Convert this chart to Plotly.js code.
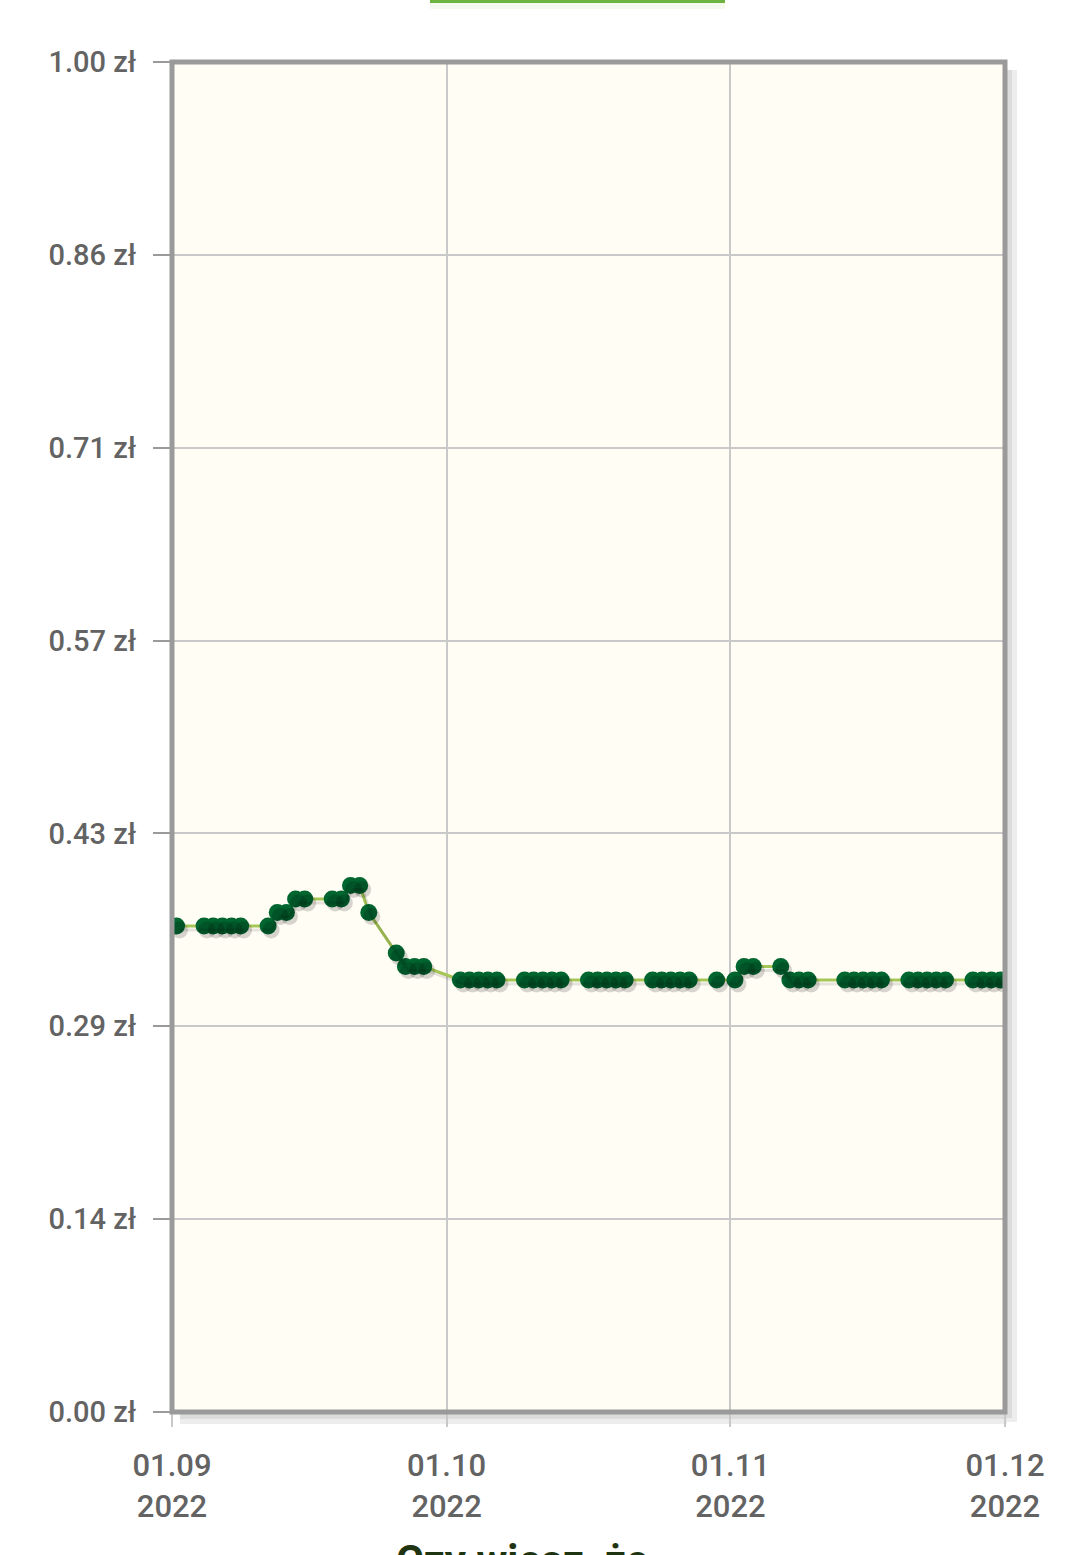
<!DOCTYPE html>
<html>
<head>
<meta charset="utf-8">
<script src="https://cdn.plot.ly/plotly-3.0.1.min.js"></script>
<style>
  html, body { margin: 0; padding: 0; background: #ffffff; }
  #chart { width: 1080px; height: 1555px; }
</style>
</head>
<body>
<div id="chart"></div>
<script>
// ---- data ----
var dates = [
  '2022-09-01 12:00',
  '2022-09-04 12:00','2022-09-05 12:00','2022-09-06 12:00','2022-09-07 12:00','2022-09-08 12:00',
  '2022-09-11 12:00','2022-09-12 12:00','2022-09-13 12:00','2022-09-14 12:00','2022-09-15 12:00',
  '2022-09-18 12:00','2022-09-19 12:00','2022-09-20 12:00','2022-09-21 12:00','2022-09-22 12:00',
  '2022-09-25 12:00','2022-09-26 12:00','2022-09-27 12:00','2022-09-28 12:00',
  '2022-10-02 12:00','2022-10-03 12:00','2022-10-04 12:00','2022-10-05 12:00','2022-10-06 12:00',
  '2022-10-09 12:00','2022-10-10 12:00','2022-10-11 12:00','2022-10-12 12:00','2022-10-13 12:00',
  '2022-10-16 12:00','2022-10-17 12:00','2022-10-18 12:00','2022-10-19 12:00','2022-10-20 12:00',
  '2022-10-23 12:00','2022-10-24 12:00','2022-10-25 12:00','2022-10-26 12:00','2022-10-27 12:00',
  '2022-10-30 12:00',
  '2022-11-01 12:00','2022-11-02 12:00','2022-11-03 12:00',
  '2022-11-06 12:00','2022-11-07 12:00','2022-11-08 12:00','2022-11-09 12:00',
  '2022-11-13 12:00','2022-11-14 12:00','2022-11-15 12:00','2022-11-16 12:00','2022-11-17 12:00',
  '2022-11-20 12:00','2022-11-21 12:00','2022-11-22 12:00','2022-11-23 12:00','2022-11-24 12:00',
  '2022-11-27 12:00','2022-11-28 12:00','2022-11-29 12:00','2022-11-30 12:00'
];
var prices = [
  0.36,
  0.36,0.36,0.36,0.36,0.36,
  0.36,0.37,0.37,0.38,0.38,
  0.38,0.38,0.39,0.39,0.37,
  0.34,0.33,0.33,0.33,
  0.32,0.32,0.32,0.32,0.32,
  0.32,0.32,0.32,0.32,0.32,
  0.32,0.32,0.32,0.32,0.32,
  0.32,0.32,0.32,0.32,0.32,
  0.32,
  0.32,0.33,0.33,
  0.33,0.32,0.32,0.32,
  0.32,0.32,0.32,0.32,0.32,
  0.32,0.32,0.32,0.32,0.32,
  0.32,0.32,0.32,0.32
];
var xTickVals = ['2022-09-01','2022-10-01','2022-11-01','2022-12-01'];
var xTickText = ['01.09<br>2022','01.10<br>2022','01.11<br>2022','01.12<br>2022'];
var yTickVals = [0, 0.142857, 0.285714, 0.428571, 0.571429, 0.714286, 0.857143, 1];
var yTickText = ['0.00 zł','0.14 zł','0.29 zł','0.43 zł','0.57 zł','0.71 zł','0.86 zł','1.00 zł'];
var xRange = ['2022-09-01','2022-12-01'];
var yRange = [0, 1];

// ---- layout geometry ----
var W = 1080, H = 1555;
var M = {l: 172, r: 75, t: 62, b: 143};
var plotW = W - M.l - M.r, plotH = H - M.t - M.b;

// shadow offset axes (pure styling: shift by a few pixels)
var x0ms = new Date(xRange[0] + 'T00:00:00Z').getTime();
var x1ms = new Date(xRange[1] + 'T00:00:00Z').getTime();
var msPerPx = (x1ms - x0ms) / plotW;
function iso(ms){ return new Date(ms).toISOString().replace('T',' ').replace('Z',''); }
var shX = 3, shY = 4;
var xRange2 = [iso(x0ms - shX*msPerPx), iso(x1ms - shX*msPerPx)];
var yRange2 = [yRange[0] + shY/plotH, yRange[1] + shY/plotH];

var traces = [
  {
    x: dates, y: prices, xaxis: 'x2', yaxis: 'y2',
    type: 'scatter', mode: 'lines+markers',
    line: {color: 'rgba(0,0,0,0.10)', width: 3},
    marker: {color: 'rgba(0,0,0,0.16)', size: 17},
    hoverinfo: 'skip', showlegend: false
  },
  {
    x: dates, y: prices,
    type: 'scatter', mode: 'lines+markers',
    line: {color: '#a6c757', width: 3},
    marker: {color: '#00652f', size: 17},
    showlegend: false
  }
];

var layout = {
  width: W, height: H,
  margin: M,
  paper_bgcolor: '#ffffff',
  plot_bgcolor: '#fffdf4',
  font: {family: 'Roboto, "Open Sans", sans-serif', color: '#666666'},
  showlegend: false,
  xaxis: {
    type: 'date', range: xRange,
    tickmode: 'array', tickvals: xTickVals, ticktext: xTickText,
    showgrid: true, gridcolor: '#c9c9c9', gridwidth: 2,
    ticks: 'outside', ticklen: 14, tickwidth: 2, tickcolor: '#c8c8c8',
    showline: false, zeroline: false,
    tickfont: {size: 31, color: '#636363', weight: 500},
    ticklabelstandoff: 12,
    fixedrange: true
  },
  yaxis: {
    range: yRange,
    tickmode: 'array', tickvals: yTickVals, ticktext: yTickText,
    showgrid: true, gridcolor: '#c9c9c9', gridwidth: 2,
    ticks: 'outside', ticklen: 18, tickwidth: 2, tickcolor: '#9a9a9a',
    showline: false, zeroline: false,
    tickfont: {size: 29, color: '#636363', weight: 500},
    ticklabelstandoff: 11,
    fixedrange: true
  },
  xaxis2: {type: 'date', range: xRange2, overlaying: 'x', visible: false, fixedrange: true},
  yaxis2: {range: yRange2, overlaying: 'y', visible: false, fixedrange: true},
  shapes: [
    // right shadow of frame
    {type: 'rect', xref: 'paper', yref: 'paper', layer: 'below',
     x0: 1 + 2/plotW, x1: 1 + 12/plotW, y0: -10/plotH, y1: 1 - 8/plotH,
     line: {width: 0}, fillcolor: 'rgba(0,0,0,0.07)'},
    {type: 'rect', xref: 'paper', yref: 'paper', layer: 'below',
     x0: 1 + 2/plotW, x1: 1 + 7/plotW, y0: -6/plotH, y1: 1 - 8/plotH,
     line: {width: 0}, fillcolor: 'rgba(0,0,0,0.07)'},
    // bottom shadow of frame
    {type: 'rect', xref: 'paper', yref: 'paper', layer: 'below',
     x0: 8/plotW, x1: 1 + 2/plotW, y0: -12/plotH, y1: -2/plotH,
     line: {width: 0}, fillcolor: 'rgba(0,0,0,0.07)'},
    {type: 'rect', xref: 'paper', yref: 'paper', layer: 'below',
     x0: 8/plotW, x1: 1 + 2/plotW, y0: -7/plotH, y1: -2/plotH,
     line: {width: 0}, fillcolor: 'rgba(0,0,0,0.07)'},
    // frame
    {type: 'rect', xref: 'paper', yref: 'paper', layer: 'above',
     x0: 0, x1: 1, y0: 0, y1: 1,
     line: {color: '#9a9a9a', width: 5}, fillcolor: 'rgba(0,0,0,0)'},
    // green tab underline at top
    {type: 'rect', xref: 'paper', yref: 'paper', layer: 'above',
     x0: (430 - M.l)/plotW, x1: (725 - M.l)/plotW,
     y0: 1 + (M.t - 3)/plotH, y1: 1 + (M.t + 2)/plotH,
     line: {width: 0}, fillcolor: '#6db33f'},
    {type: 'rect', xref: 'paper', yref: 'paper', layer: 'above',
     x0: (430 - M.l)/plotW, x1: (725 - M.l)/plotW,
     y0: 1 + (M.t - 9)/plotH, y1: 1 + (M.t - 3)/plotH,
     line: {width: 0}, fillcolor: 'rgba(240,245,225,0.6)'}
  ],
  annotations: [
    {text: '<b>Czy wiesz, że</b>', xref: 'paper', yref: 'paper',
     x: (522 - M.l)/plotW, y: -(1534 - (H - M.b))/plotH,
     xanchor: 'center', yanchor: 'top', showarrow: false,
     font: {family: 'Roboto, sans-serif', size: 42, color: '#1f3411'}}
  ]
};

Plotly.newPlot('chart', traces, layout, {displayModeBar: false, staticPlot: true});
</script>
</body>
</html>
